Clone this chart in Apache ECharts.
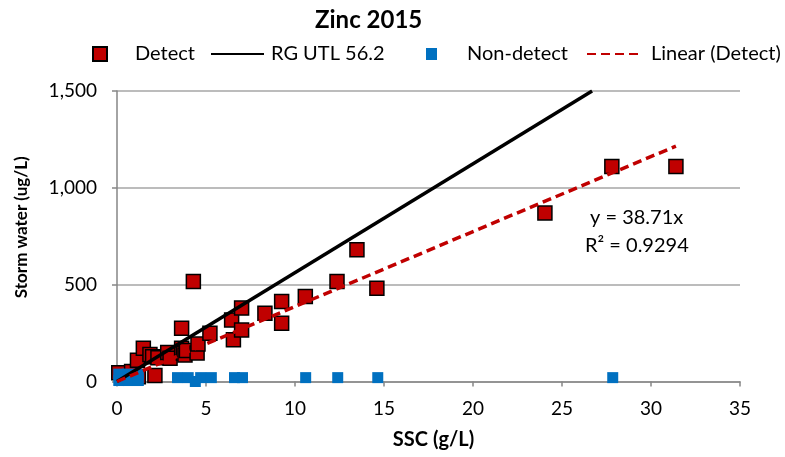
<!DOCTYPE html>
<html>
<head>
<meta charset="utf-8">
<script src="https://cdn.jsdelivr.net/npm/echarts@6/dist/echarts.min.js"></script>
<style>html,body{margin:0;padding:0;background:#fff}#c{width:785px;height:457px}</style>
</head>
<body>
<div id="c"></div>
<script>
const titleText = 'Zinc 2015';
const xAxisName = 'SSC (g/L)';
const yAxisName = 'Storm water (ug/L)';
const seriesNames = ['Detect', 'RG UTL 56.2', 'Non-detect', 'Linear (Detect)'];
const xRange = [0, 35, 5];
const yRange = [0, 1500, 500];

const detectX = [0.1, 0.82, 1.2, 1.15, 1.48, 1.85, 2.0, 2.3, 2.13, 2.85, 2.98, 3.63, 3.63, 3.73, 3.82, 3.9, 4.29, 4.5, 4.55, 5.22, 6.44, 6.54, 7.0, 7.0, 8.31, 9.25, 9.25, 10.58, 12.36, 13.48, 14.6, 24.04, 27.8, 31.4];
const detectY = [45, 51, 25, 110, 172, 140, 128, 122, 31, 150, 120, 275, 172, 146, 137, 160, 516, 147, 193, 249, 318, 215, 379, 266, 353, 413, 301, 439, 516, 680, 482, 870, 1110, 1110];

const nondetectX = [0.1, 0.6, 1.2, 0.1, 0.6, 1.2, 3.4, 4.0, 4.4, 4.7, 5.3, 6.6, 7.05, 10.6, 12.4, 14.65, 27.85];
const nondetectY = [38, 38, 38, 5, 5, 5, 20, 20, 0, 20, 20, 20, 20, 20, 20, 20, 20];

const rgX = [0, 26.69];
const rgY = [0, 1500];
const trendX = [0, 31.4];
const trendY = [0, 1215.5];

const eqLines = ['y = 38.71x', 'R² = 0.9294'];

const zip = (a, b) => a.map((v, i) => [v, b[i]]);
const FONT = 'Lato';

const chart = echarts.init(document.getElementById('c'), null, {renderer: 'canvas'});
const legendBase = {top: 39, itemHeight: 14, textStyle: {fontFamily: FONT, fontSize: 20, color: '#000'}, selectedMode: false};
const lineLegendItem = {opacity: 0};
chart.setOption({
  animation: false,
  title: {text: titleText, left: 310, top: 3, textStyle: {fontFamily: FONT, fontSize: 24, fontWeight: 'bold', color: '#000'}},
  legend: [
    Object.assign({}, legendBase, {data: [seriesNames[0]], left: 87, itemWidth: 14, textStyle: Object.assign({}, legendBase.textStyle, {padding: [0, 0, 0, 23]})}),
    Object.assign({}, legendBase, {data: [seriesNames[1]], left: 205, itemWidth: 53, itemStyle: lineLegendItem, textStyle: Object.assign({}, legendBase.textStyle, {padding: [0, 0, 0, 2]})}),
    Object.assign({}, legendBase, {data: [seriesNames[2]], left: 421, itemWidth: 11, itemHeight: 12, textStyle: Object.assign({}, legendBase.textStyle, {padding: [0, 0, 0, 25]})}),
    Object.assign({}, legendBase, {data: [seriesNames[3]], left: 581, itemWidth: 55, itemStyle: lineLegendItem, textStyle: Object.assign({}, legendBase.textStyle, {padding: [0, 0, 0, 4]})})
  ],
  grid: {left: 117, right: 45, top: 91, bottom: 75.5, containLabel: false},
  xAxis: {
    type: 'value', min: xRange[0], max: xRange[1], interval: xRange[2],
    name: xAxisName, nameLocation: 'middle', nameGap: 48,
    nameTextStyle: {fontFamily: FONT, fontSize: 20, fontWeight: 'bold', color: '#000', padding: [0, 0, 0, 10]},
    axisLine: {show: true, lineStyle: {color: '#868686', width: 1.5}},
    axisTick: {show: true, inside: false, length: 5, lineStyle: {color: '#868686', width: 1.5}},
    axisLabel: {fontFamily: FONT, fontSize: 19, color: '#000', margin: 18},
    splitLine: {show: false}
  },
  yAxis: {
    type: 'value', min: yRange[0], max: yRange[1], interval: yRange[2],
    name: yAxisName, nameLocation: 'middle', nameGap: 87,
    nameTextStyle: {fontFamily: FONT, fontSize: 17, fontWeight: 'bold', color: '#000', padding: [0, 0, 0, 18]},
    axisLine: {show: true, lineStyle: {color: '#868686', width: 1.5}},
    axisTick: {show: true, inside: false, length: 5, lineStyle: {color: '#868686', width: 1.5}},
    axisLabel: {fontFamily: FONT, fontSize: 19, color: '#000', margin: 20,
      formatter: v => v.toLocaleString('en-US')},
    splitLine: {show: true, lineStyle: {color: '#a6a6a6', width: 1.5}}
  },
  series: [
    {name: seriesNames[0], type: 'scatter', data: zip(detectX, detectY), symbol: 'rect', symbolSize: 14,
      itemStyle: {color: '#c00000', borderColor: '#000', borderWidth: 1.5, opacity: 1}},
    {name: seriesNames[1], type: 'line', data: zip(rgX, rgY), symbol: 'none',
      lineStyle: {color: '#000', width: 3.5}, itemStyle: {color: '#000'}},
    {name: seriesNames[2], type: 'scatter', data: zip(nondetectX, nondetectY), symbol: 'rect', symbolSize: 11,
      itemStyle: {color: '#0070c0', opacity: 1}},
    {name: seriesNames[3], type: 'line', data: zip(trendX, trendY), symbol: 'none',
      lineStyle: {color: '#c00000', width: 3.5, type: [9, 5]}, itemStyle: {color: '#c00000'}}
  ],
  graphic: [
    {type: 'text', left: 590, top: 208, style: {text: eqLines[0], font: '20px Lato', fill: '#000'}},
    {type: 'text', left: 585, top: 236, style: {text: eqLines[1], font: '20px Lato', fill: '#000'}}
  ]
});
</script>
</body>
</html>
